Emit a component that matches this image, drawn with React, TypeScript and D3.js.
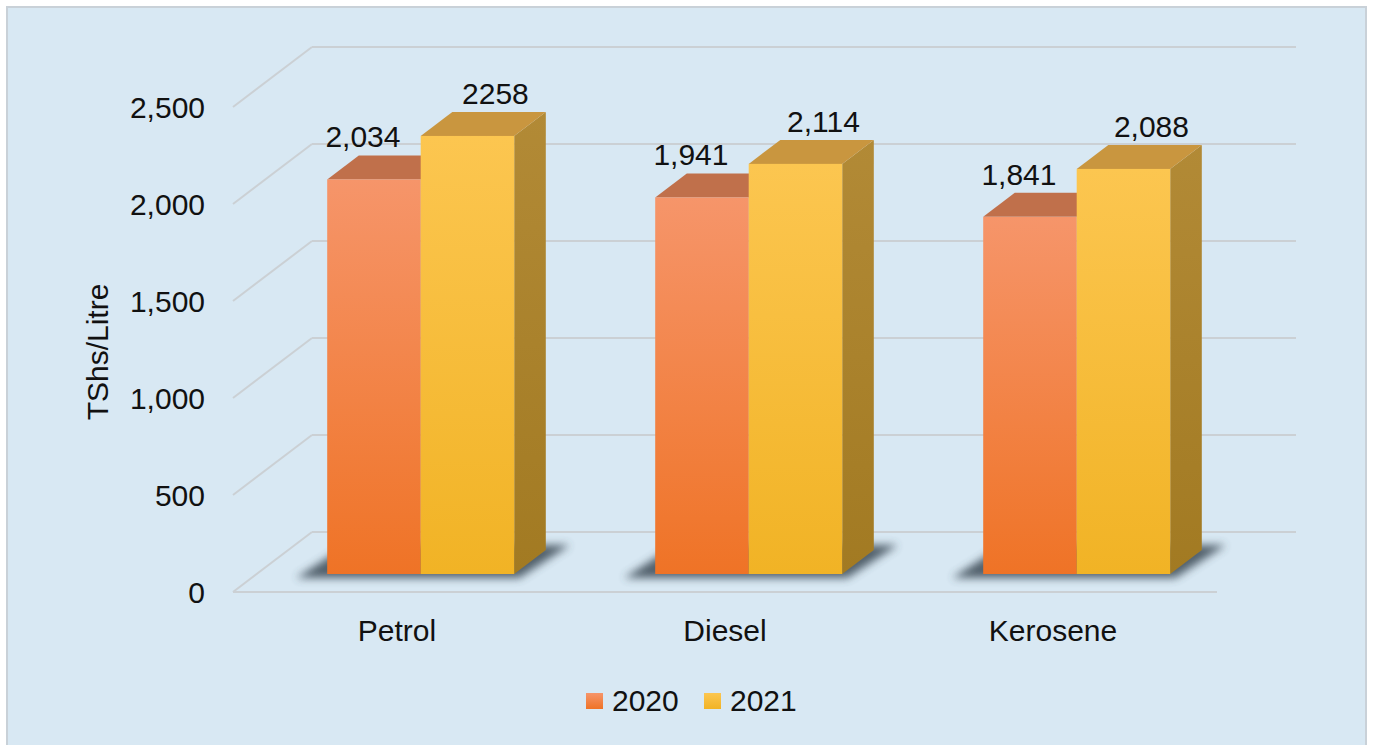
import * as d3 from 'd3'

const categories = ['Petrol', 'Diesel', 'Kerosene']
const seriesNames = ['2020', '2021']
const values2020 = [2034, 1941, 1841]
const values2021 = [2258, 2114, 2088]
const valueLabels2020 = ['2,034', '1,941', '1,841']
const valueLabels2021 = ['2258', '2,114', '2,088']
const yTicks = [0, 500, 1000, 1500, 2000, 2500]

const W = 1375
const H = 745
const font = "'Liberation Sans', Arial, Helvetica, sans-serif"

// floor / wall geometry (front edge of the floor and depth offset)
const floorLeft = 233
const floorRight = 1217
const floorY = 592
const depthX = 79
const depthY = 60

const xBand = d3.scaleBand().domain(categories).range([floorLeft, floorRight])
const seriesBand = d3.scaleBand().domain(seriesNames).range([0, xBand.bandwidth()]).paddingOuter(0.754)
const yScale = d3.scaleLinear().domain([0, 2500]).range([0, 485])

// project a point at depth z (0 front .. 1 back)
const px = (x: number, z: number) => x + z * depthX
const py = (y: number, z: number) => y - z * depthY

const barZ0 = 0.3
const barZ1 = 0.7

const pts = (a: number[][]) => a.map(p => p.join(',')).join(' ')

const styles: Record<string, { front: [string, string], top: string, side: [string, string] }> = {
  '2020': { front: ['#f6956a', '#ef7326'], top: '#c0704b', side: ['#b0603a', '#a05028'] },
  '2021': { front: ['#fcc650', '#f1b325'], top: '#c9963f', side: ['#b28a36', '#a27a22'] },
}

const labelDx: Record<string, number> = { '2020': -11, '2021': 28 }

export default function App() {
  const barsFor = (cat: string, i: number) => {
    const series = [
      { name: '2020', v: values2020[i], label: valueLabels2020[i] },
      { name: '2021', v: values2021[i], label: valueLabels2021[i] },
    ]
    const x0 = (xBand(cat) as number)
    const base = floorY
    const leftMost = px(x0 + (seriesBand('2020') as number), barZ0)
    const rightMost = px(x0 + (seriesBand('2021') as number) + seriesBand.bandwidth(), barZ0)
    const by0 = py(base, barZ0)
    const shadow = [
      [leftMost - 31, by0 + 4],
      [rightMost + 5, by0 + 4],
      [rightMost + (barZ1 - barZ0) * depthX + 24, by0 - (barZ1 - barZ0) * depthY - 5],
      [leftMost + 20, by0 - (barZ1 - barZ0) * depthY - 5],
    ]
    return (
      <g key={cat}>
        <polygon points={pts(shadow)} fill="#3a4954" opacity={0.85} filter="url(#blur)" />
        {series.map(s => {
          const bx = x0 + (seriesBand(s.name) as number)
          const bw = seriesBand.bandwidth()
          const h = yScale(s.v)
          const fl = px(bx, barZ0), fr = px(bx + bw, barZ0)
          const fb = py(base, barZ0), ft = fb - h
          const ddx = (barZ1 - barZ0) * depthX, ddy = (barZ1 - barZ0) * depthY
          return (
            <g key={s.name}>
              <polygon points={pts([[fr, ft], [fr + ddx, ft - ddy], [fr + ddx, fb - ddy], [fr, fb]])} fill={`url(#side${s.name})`} />
              <polygon points={pts([[fl, ft], [fr, ft], [fr + ddx, ft - ddy], [fl + ddx, ft - ddy]])} fill={styles[s.name].top} />
              <rect x={fl} y={ft} width={bw} height={h} fill={`url(#front${s.name})`} />
              <text x={(fl + fr) / 2 + labelDx[s.name]} y={ft - ddy - 8} textAnchor="middle" fontSize={30} fill="#111">{s.label}</text>
            </g>
          )
        })}
      </g>
    )
  }

  return (
    <div style={{ position: 'absolute', left: 0, top: 0 }}>
      <svg width={W} height={H} style={{ display: 'block', fontFamily: font }}>
        <defs>
          {seriesNames.map(n => (
            <linearGradient key={n} id={`front${n}`} x1="0" y1="0" x2="0" y2="1">
              <stop offset="0" stopColor={styles[n].front[0]} />
              <stop offset="1" stopColor={styles[n].front[1]} />
            </linearGradient>
          ))}
          {seriesNames.map(n => (
            <linearGradient key={n} id={`side${n}`} x1="0" y1="0" x2="0" y2="1">
              <stop offset="0" stopColor={styles[n].side[0]} />
              <stop offset="1" stopColor={styles[n].side[1]} />
            </linearGradient>
          ))}
          <filter id="blur" x="-20%" y="-50%" width="140%" height="200%">
            <feGaussianBlur stdDeviation="4" />
          </filter>
        </defs>
        <rect x={0} y={0} width={W} height={H} fill="#ffffff" />
        <rect x={7} y={7} width={1359} height={H} fill="#d8e8f3" stroke="#c9d1d8" strokeWidth={2} />

        {/* wall gridlines */}
        {yTicks.map(t => {
          const fy = floorY - yScale(t)
          return (
            <g key={t}>
              <line x1={floorLeft} y1={fy} x2={px(floorLeft, 1)} y2={py(fy, 1)} stroke="#cbd0d4" strokeWidth={2} />
              <line x1={px(floorLeft, 1)} y1={py(fy, 1)} x2={px(floorRight, 1)} y2={py(fy, 1)} stroke="#cbd0d4" strokeWidth={2} />
              <text x={205} y={fy + 11} textAnchor="end" fontSize={30} fill="#111">{d3.format(',')(t)}</text>
            </g>
          )
        })}
        <line x1={floorLeft} y1={floorY} x2={floorRight} y2={floorY} stroke="#cbd0d4" strokeWidth={2} />

        {categories.map((c, i) => barsFor(c, i))}

        {categories.map(c => (
          <text key={c} x={(xBand(c) as number) + xBand.bandwidth() / 2} y={641} textAnchor="middle" fontSize={30} fill="#111">{c}</text>
        ))}

        <text transform="translate(108,352) rotate(-90)" textAnchor="middle" fontSize={30} fill="#111">TShs/Litre</text>

        {seriesNames.map((n, i) => (
          <g key={n} transform={`translate(${586 + i * 118},693)`}>
            <rect width={17} height={16} fill={`url(#front${n})`} />
            <text x={26} y={18} fontSize={30} fill="#111">{n}</text>
          </g>
        ))}
      </svg>
    </div>
  )
}
